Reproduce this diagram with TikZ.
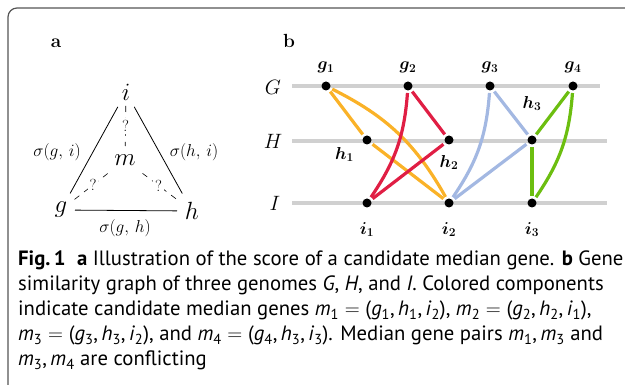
\documentclass[tikz,border=0pt]{standalone}
\usepackage{amsmath,bm}
\usepackage{fontspec}
\setsansfont{PT Sans}
\usetikzlibrary{arrows.meta,positioning}
\definecolor{framegray}{RGB}{85,85,85}
\definecolor{rowgray}{RGB}{208,208,208}
\definecolor{mone}{RGB}{250,178,40}
\definecolor{mtwo}{RGB}{224,30,68}
\definecolor{mthree}{RGB}{163,184,226}
\definecolor{mfour}{RGB}{108,190,16}
\newcommand{\sv}[2]{\textit{#1}\textsubscript{#2}}

\begin{document}
\begin{tikzpicture}[x=1pt,y=-1pt,
  tri/.style={font=\fontsize{25}{25}\selectfont,inner sep=1pt},
  sig/.style={font=\fontsize{19}{19}\selectfont,inner sep=1pt},
  qm/.style={font=\fontsize{16}{16}\selectfont,fill=white,inner sep=2pt},
  guess/.style={dash pattern=on 6pt off 6pt,line width=0.6pt},
  gene/.style={circle,fill=black,inner sep=0pt,minimum size=9pt,outer sep=2.5pt},
  genelbl/.style={font=\fontsize{18}{18}\selectfont,inner sep=1pt},
  rowlbl/.style={font=\fontsize{22}{22}\selectfont},
  rowline/.style={line width=4pt,rowgray},
  edge/.style={line width=3.2pt}]
\useasboundingbox (0,0) rectangle (625,385);
\draw[framegray,line width=1.2pt,rounded corners=9pt] (8,390) |- (630,8);

% panel a
\node[font=\bfseries\fontsize{19}{19}\selectfont] (pa) at (56,43) {a};
\node[tri] (i) at (126,92) {$i$};
\node[tri] (g) at (61,210) {$g$};
\node[tri] (h) at (192,211) {$h$};
\node[tri] (m) at (125,160) {$m$};
\draw[line width=0.8pt,shorten <=19pt,shorten >=17pt] (g.center) -- (i.center);
\draw[line width=0.8pt,shorten <=20pt,shorten >=17pt] (h.center) -- (i.center);
\draw[line width=0.8pt,shorten <=14pt,shorten >=15pt] (g.center) -- (h.center);
\node[sig] (sgi) at (57,152) {$\sigma(g,\,i)$};
\node[sig] (shi) at (194,152) {$\sigma(h,\,i)$};
\node[sig] (sgh) at (125,228) {$\sigma(g,\,h)$};
\draw[guess,shorten <=14pt,shorten >=14pt] (i.center) -- node[qm] (q1) {?} (m.center);
\draw[guess,shorten <=22pt,shorten >=17pt] (m.center) -- node[qm] (q2) {?} (g.center);
\draw[guess,shorten <=22pt,shorten >=17pt] (m.center) -- node[qm] (q3) {?} (h.center);

% panel b
\node[font=\bfseries\fontsize{19}{19}\selectfont] (pb) at (289,41) {b};
\node[rowlbl] (rG) at (273,87) {$G$};
\node[rowlbl] (rH) at (273,141) {$H$};
\node[rowlbl] (rI) at (275,203) {$I$};
\coordinate (Gs) at (292,86);  \coordinate (Ge) at (600,86);
\coordinate (Hs) at (292,141); \coordinate (He) at (607,141);
\coordinate (Is) at (292,203); \coordinate (Ie) at (607,203);
\draw[rowline] (Gs) -- (Ge);
\draw[rowline] (Hs) -- (He);
\draw[rowline] (Is) -- (Ie);

\node[gene] (g1) at (326,86) {};
\node[gene] (g2) at (408,86) {};
\node[gene] (g3) at (490,86) {};
\node[gene] (g4) at (573,86) {};
\node[gene] (h1) at (367,140) {};
\node[gene] (h2) at (449,140) {};
\node[gene] (h3) at (532,140) {};
\node[gene] (i1) at (367,203) {};
\node[gene] (i2) at (449,203) {};
\node[gene] (i3) at (532,203) {};

\node[genelbl,above=5pt of g1] (lg1) {$\bm{g_1}$};
\node[genelbl,above=5pt of g2] (lg2) {$\bm{g_2}$};
\node[genelbl,above=5pt of g3] (lg3) {$\bm{g_3}$};
\node[genelbl,above=5pt of g4] (lg4) {$\bm{g_4}$};
\node[genelbl,below left=1pt and 7pt of h1] (lh1) {$\bm{h_1}$};
\node[genelbl,below=7pt of h2] (lh2) {$\bm{h_2}$};
\node[genelbl,above=21pt of h3] (lh3) {$\bm{h_3}$};
\node[genelbl,below=11pt of i1] (li1) {$\bm{i_1}$};
\node[genelbl,below=11pt of i2] (li2) {$\bm{i_2}$};
\node[genelbl,below=11pt of i3] (li3) {$\bm{i_3}$};

% candidate median genes
\draw[edge,mone] (g1) -- (h1);
\draw[edge,mone] (h1) -- (i2);
\draw[edge,mone] (g1) to[bend left=17] (i2);
\draw[edge,mtwo] (g2) -- (h2);
\draw[edge,mtwo] (h2) -- (i1);
\draw[edge,mtwo] (g2) to[bend left=15] (i1);
\draw[edge,mthree] (g3) -- (h3);
\draw[edge,mthree] (h3) -- (i2);
\draw[edge,mthree] (g3) to[bend left=15] (i2);
\draw[edge,mfour] (g4) -- (h3);
\draw[edge,mfour] (h3) -- (i3);
\draw[edge,mfour] (g4) to[bend left=15] (i3);

% caption
\node[anchor=north west,align=left,inner sep=0pt,
  font=\sffamily\fontsize{20.7}{25}\selectfont] (cap) at (18,251)
  {\textbf{Fig.\,1}\hspace{0.55em}\textbf{a} Illustration of the score of a candidate median gene. \textbf{b} Gene\\
   similarity graph of three genomes \textit{G}, \textit{H}, and \textit{I}. Colored components\\
   indicate candidate median genes \sv{m}{1}\;$=$\;(\sv{g}{1},\,\sv{h}{1},\,\sv{i}{2}), \sv{m}{2}\;$=$\;(\sv{g}{2},\,\sv{h}{2},\,\sv{i}{1}),\\
   \sv{m}{3}\;$=$\;(\sv{g}{3},\,\sv{h}{3},\,\sv{i}{2}), and \sv{m}{4}\;$=$\;(\sv{g}{4},\,\sv{h}{3},\,\sv{i}{3}). Median gene pairs \sv{m}{1},\,\sv{m}{3} and\\
   \sv{m}{3},\,\sv{m}{4} are conflicting};
\end{tikzpicture}
\end{document}
